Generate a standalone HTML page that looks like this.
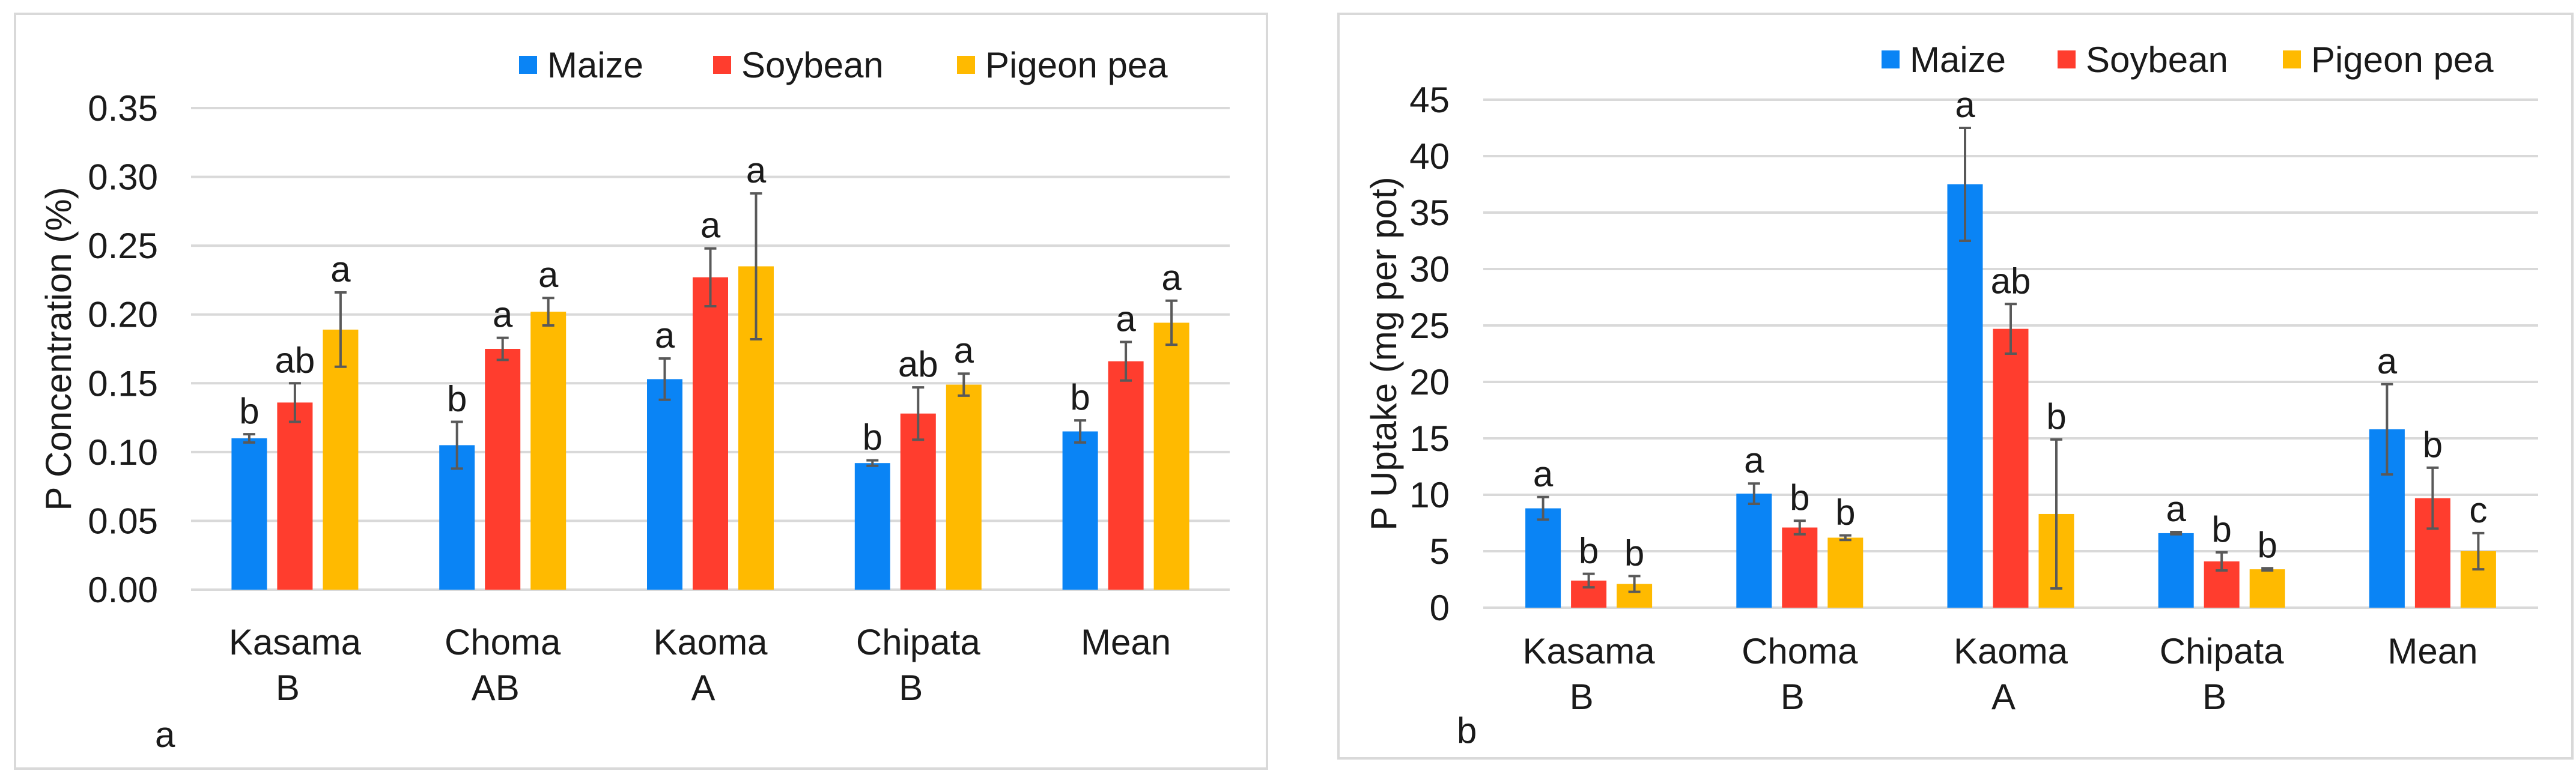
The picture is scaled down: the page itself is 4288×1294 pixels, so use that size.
<!DOCTYPE html>
<html><head><meta charset="utf-8">
<style>
html,body{margin:0;padding:0;background:#fff;}
svg{display:block;font-family:"Liberation Sans",Arial,sans-serif;}
</style></head>
<body>
<svg id="chart" width="4288" height="1294" viewBox="0 0 4288 1294" xmlns="http://www.w3.org/2000/svg">
<rect x="0" y="0" width="4288" height="1294" fill="#fff"/>
<rect x="25" y="23" width="2084" height="1257" fill="#fff" stroke="#d9d9d9" stroke-width="4"/>
<rect x="2228" y="23" width="2054" height="1240" fill="#fff" stroke="#d9d9d9" stroke-width="4"/>
</svg>
<script>
const categories = ["Kasama", "Choma", "Kaoma", "Chipata", "Mean"];
const categorySub = ["B", "AB", "A", "B", ""];
const categorySubB = ["B", "B", "A", "B", ""];
const seriesNames = ["Maize", "Soybean", "Pigeon pea"];
const seriesColors = ["#0a84f5", "#ff3d2e", "#ffba00"];

const concMaize = [0.110, 0.105, 0.153, 0.092, 0.115];
const concSoy = [0.136, 0.175, 0.227, 0.128, 0.166];
const concPigeon = [0.189, 0.202, 0.235, 0.149, 0.194];
const concErrMaize = [0.003, 0.017, 0.015, 0.002, 0.008];
const concErrSoy = [0.014, 0.008, 0.021, 0.019, 0.014];
const concErrPigeon = [0.027, 0.010, 0.053, 0.008, 0.016];
const concLetMaize = ["b", "b", "a", "b", "b"];
const concLetSoy = ["ab", "a", "a", "ab", "a"];
const concLetPigeon = ["a", "a", "a", "a", "a"];
const concTicks = ["0.00", "0.05", "0.10", "0.15", "0.20", "0.25", "0.30", "0.35"];

const upMaize = [8.8, 10.1, 37.5, 6.6, 15.8];
const upSoy = [2.4, 7.1, 24.7, 4.1, 9.7];
const upPigeon = [2.1, 6.2, 8.3, 3.4, 5.0];
const upErrMaize = [1.0, 0.9, 5.0, 0.1, 4.0];
const upErrSoy = [0.6, 0.6, 2.2, 0.8, 2.7];
const upErrPigeon = [0.7, 0.2, 6.6, 0.1, 1.6];
const upLetMaize = ["a", "a", "a", "a", "a"];
const upLetSoy = ["b", "b", "ab", "b", "b"];
const upLetPigeon = ["b", "b", "b", "b", "c"];
const upTicks = ["0", "5", "10", "15", "20", "25", "30", "35", "40", "45"];

const NS = "http://www.w3.org/2000/svg";
const svg = document.getElementById("chart");
function mk(tag, attrs, parent) {
  const e = document.createElementNS(NS, tag);
  for (const k in attrs) e.setAttribute(k, attrs[k]);
  (parent || svg).appendChild(e);
  return e;
}
function txt(s, attrs, parent) { const t = mk("text", attrs, parent); t.textContent = s; return t; }

function panel(cfg) {
  const g = mk("g", {});
  
  
  const x0 = cfg.x0, x1 = cfg.x1, yb = cfg.yb, yt = cfg.yt, max = cfg.max;
  const y = v => yb - (v / max) * (yb - yt);
  const gw = (x1 - x0) / categories.length;
  cfg.ticks.forEach((t, i) => {
    const v = max * i / (cfg.ticks.length - 1);
    const l = mk("line", {x1: x0, x2: x1, y1: y(v), y2: y(v), stroke: "#d9d9d9", "stroke-width": 4}, g);
    
    
    const tl = txt(t, {x: cfg.tickX, y: y(v) + 21, "text-anchor": "end", "font-size": 60, fill: "#1a1a1a"}, g);
    
    
  });
  const yt2 = txt(cfg.ytitle, {x: 0, y: 0, "text-anchor": "middle", "font-size": 60, fill: "#1a1a1a",
    transform: `translate(${cfg.titleX},${(yt + yb) / 2}) rotate(-90)`}, g);
  
  
  const bw = 59, gap = 17;
  categories.forEach((c, i) => {
    const cx = x0 + gw * (i + 0.5);
    cfg.series.forEach((s, j) => {
      const bx = cx + (j - 1) * (bw + gap) - bw / 2;
      const v = s.vals[i], e = s.err[i];
      const r = mk("rect", {x: bx, y: y(v), width: bw, height: yb - y(v), fill: seriesColors[j]}, g);
      
      
      const m = bx + bw / 2;
      const eb = mk("path", {d: `M${m},${y(v + e)}V${y(v - e)}M${m - 10},${y(v + e)}H${m + 10}M${m - 10},${y(v - e)}H${m + 10}`,
        stroke: "#595959", "stroke-width": 4, fill: "none"}, g);
      
      
      const lt = txt(s.lets[i], {x: m, y: y(v + e) - 18, "text-anchor": "middle", "font-size": 60, fill: "#1a1a1a"}, g);
      
      
    });
    const cl = txt(c, {x: cx, y: cfg.catY, "text-anchor": "middle", "font-size": 60, fill: "#1a1a1a"}, g);
    
    
    if (cfg.subs[i]) {
      const sl = txt(cfg.subs[i], {x: cx - 12, y: cfg.catY + 76, "text-anchor": "middle", "font-size": 60, fill: "#1a1a1a"}, g);
      
      
    }
  });
  seriesNames.forEach((n, j) => {
    const lg = mk("g", {}, g);
    
    
    mk("rect", {x: cfg.legX[j], y: cfg.legY - 15, width: 30, height: 30, fill: seriesColors[j]}, lg);
    txt(n, {x: cfg.legX[j] + 47, y: cfg.legY + 21, "font-size": 60, fill: "#1a1a1a"}, lg);
  });
  const pl = txt(cfg.label, {x: cfg.labX, y: cfg.labY, "font-size": 60, fill: "#1a1a1a"}, g);
  
  
}

panel({name: "panel-a-p-concentration", x0: 318, x1: 2047, yb: 982, yt: 180, max: 0.35, ticks: concTicks,
  tickX: 263, titleX: 118, ytitle: "P Concentration (%)", catY: 1090, subs: categorySub,
  legX: [864, 1187, 1593], legY: 108, label: "a", labX: 258, labY: 1244,
  series: [{vals: concMaize, err: concErrMaize, lets: concLetMaize},
           {vals: concSoy, err: concErrSoy, lets: concLetSoy},
           {vals: concPigeon, err: concErrPigeon, lets: concLetPigeon}]});

panel({name: "panel-b-p-uptake", x0: 2469, x1: 4225, yb: 1012, yt: 166, max: 45, ticks: upTicks,
  tickX: 2413, titleX: 2324, ytitle: "P Uptake (mg per pot)", catY: 1105, subs: categorySubB,
  legX: [3132, 3425, 3800], legY: 99, label: "b", labX: 2425, labY: 1237,
  series: [{vals: upMaize, err: upErrMaize, lets: upLetMaize},
           {vals: upSoy, err: upErrSoy, lets: upLetSoy},
           {vals: upPigeon, err: upErrPigeon, lets: upLetPigeon}]});
</script>
</body></html>
